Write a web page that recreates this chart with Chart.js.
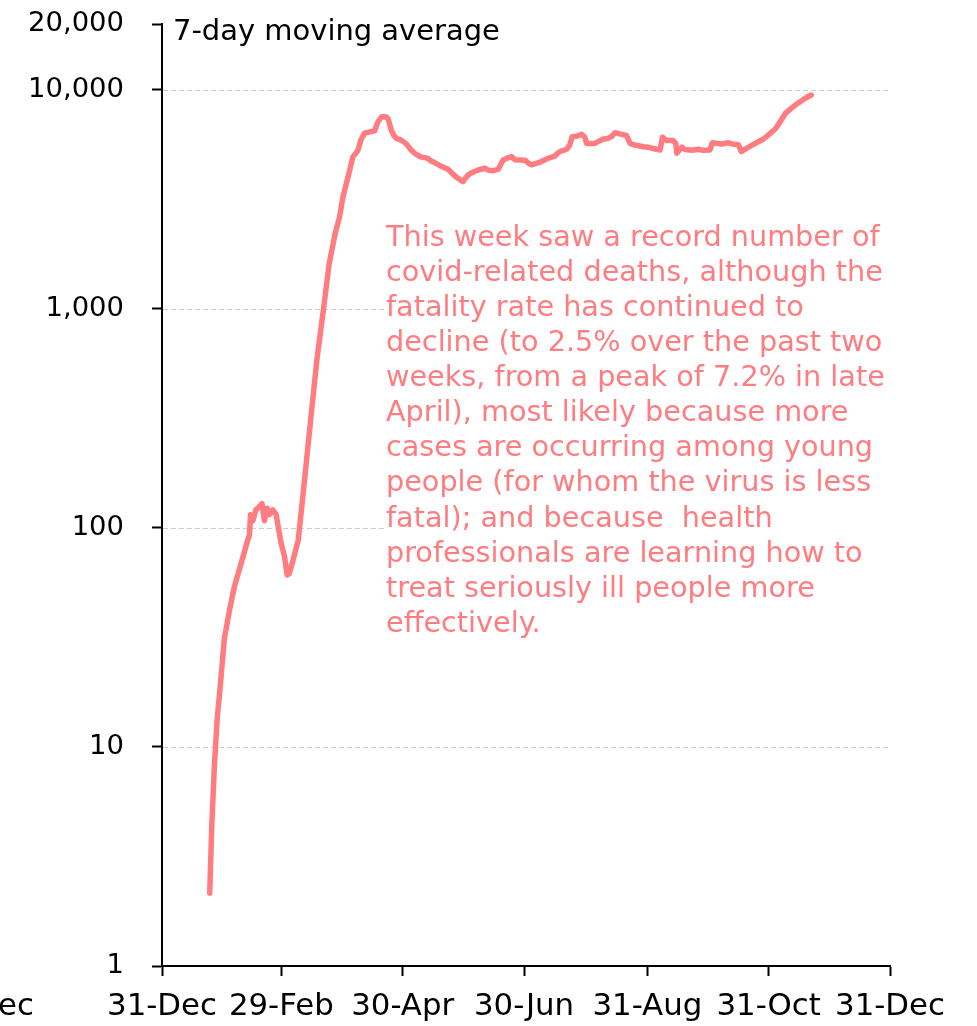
<!DOCTYPE html>
<html><head><meta charset="utf-8">
<script src="https://cdn.jsdelivr.net/npm/chart.js@4"></script>
<style>html,body{margin:0;padding:0;background:#fff;} canvas{display:block}</style>
</head><body>
<canvas id="c" width="977" height="1026"></canvas>
<script>
// ---- data ----
const tickDays = [0, 60, 121, 182, 244, 305, 366];
const tickLabels = ['31-Dec', '29-Feb', '30-Apr', '30-Jun', '31-Aug', '31-Oct', '31-Dec'];
const yTickValues = [1, 10, 100, 1000, 10000, 20000];
const yTickLabels = ['1', '10', '100', '1,000', '10,000', '20,000'];
const cutLabel = '31-Dec';
// days since 31-Dec-2019
const days = [24, 25, 26.3, 27.7, 29.3, 31.3, 33.9, 36.4, 39.8, 43.1, 44, 44.5, 45.7, 47.2, 48.5, 50.3, 51.5, 52.9, 54, 55.7, 57.4, 59.9, 61.6, 62.9, 64, 66, 68.5,
  71.5, 75, 78, 81.5, 84, 87, 89.3, 91, 93.5, 96, 98.5, 100, 101.8, 105, 106.9, 108.6, 110.5, 112.5, 113.6, 115.3, 116.5, 118, 120, 121.5, 123, 125, 127, 130,
  133.7, 135, 137, 140, 143.8, 146, 148, 150, 151.4, 152.5, 153.9, 156, 159, 162.3, 164, 166.5, 169, 170.5, 171.5, 174, 175.7, 177.4, 180, 182.5, 184, 185.8,
  189, 191.5, 194, 197.5, 198.5, 200, 203.4, 205, 206.2, 208.5, 211, 212.5, 213.5, 217.6, 220, 221.9, 224, 226, 227.7, 230, 233.5, 235.3, 237, 239.5, 242,
  244.5, 247, 250.4, 251.6, 253.8, 257, 258.3, 258.8, 261.3, 263, 266.4, 269.6, 272, 275.5, 276.7, 279, 281.5, 284.8, 287, 289.8, 291.2, 293, 294.9, 298.3,
  302.4, 305.5, 308.4, 311, 313.4, 316, 318.4, 321, 323.4, 326.4];
const deaths = [2.15, 4.3, 8.1, 13.3, 19, 31, 42, 54, 69, 88, 93, 115, 108, 121, 124, 129, 108, 123, 115, 121, 115, 85, 74, 61, 62, 72, 88,
  160, 330, 600, 1050, 1600, 2200, 2640, 3250, 4000, 4950, 5300, 5900, 6350, 6450, 6500, 7170, 7550, 7550, 7400, 6560, 6200, 6000, 5910, 5800, 5650, 5350, 5140, 4950,
  4870, 4750, 4660, 4500, 4340, 4150, 4000, 3880, 3820, 3950, 4090, 4200, 4310, 4390, 4300, 4280, 4340, 4600, 4790, 4900, 4960, 4800, 4790, 4780, 4650, 4550,
  4640, 4750, 4870, 4980, 5100, 5230, 5360, 5600, 6120, 6150, 6270, 6100, 5700, 5700, 5850, 5970, 6000, 6120, 6380, 6300, 6200, 5700, 5620, 5560, 5500,
  5480, 5400, 5320, 6080, 5870, 5870, 5700, 5140, 5480, 5350, 5300, 5360, 5300, 5320, 5740, 5700, 5660, 5740, 5650, 5620, 5230, 5350, 5480, 5700,
  5970, 6300, 6650, 7200, 7820, 8200, 8530, 8850, 9160, 9480];
const titleText = '7-day moving average';
const noteLines = [
  'This week saw a record number of',
  'covid-related deaths, although the',
  'fatality rate has continued to',
  'decline (to 2.5% over the past two',
  'weeks, from a peak of 7.2% in late',
  'April), most likely because more',
  'cases are occurring among young',
  'people (for whom the virus is less',
  'fatal); and because  health',
  'professionals are learning how to',
  'treat seriously ill people more',
  'effectively.'
];

// ---- styling ----
const FAMILY = '"DejaVu Sans", sans-serif';
const LINE_COLOR = '#FF7C80';
const mctx = document.createElement('canvas').getContext('2d');
function fit(text, w) { mctx.font = '100px ' + FAMILY; return 100 * w / mctx.measureText(text).width; }
const xTickSize = fit('31-Dec', 110);
const yTickSize = fit('10,000', 96);
const titleSize = fit(titleText, 327);
const noteSize = fit(noteLines[1], 497);
const xPad = 31 - 0.6 * xTickSize;

function noPad(s) { s.paddingTop = 0; s.paddingBottom = 0; s.paddingLeft = 0; s.paddingRight = 0; }

const decor = {
  id: 'decor',
  beforeDatasetsDraw(chart) {
    const { ctx, chartArea, scales } = chart;
    ctx.save();
    ctx.strokeStyle = '#CFCFCF';
    ctx.lineWidth = 1;
    ctx.setLineDash([5, 3]);
    [10, 100, 1000, 10000].forEach(v => {
      const y = Math.round(scales.y.getPixelForValue(v)) + 0.5;
      ctx.beginPath();
      ctx.moveTo(chartArea.left + 1, y);
      ctx.lineTo(chartArea.right - 2, y);
      ctx.stroke();
    });
    ctx.setLineDash([]);
    // note box background
    ctx.fillStyle = '#fff';
    ctx.fillRect(384, 222, chartArea.right - 384 + 2, 424);
    ctx.restore();
  },
  afterDraw(chart) {
    const { ctx, scales } = chart;
    ctx.save();
    ctx.fillStyle = '#000';
    ctx.textAlign = 'left';
    ctx.textBaseline = 'alphabetic';
    ctx.font = titleSize + 'px ' + FAMILY;
    ctx.fillText(titleText, 173, 40);
    ctx.fillStyle = LINE_COLOR;
    ctx.font = noteSize + 'px ' + FAMILY;
    noteLines.forEach((l, i) => ctx.fillText(l, 386, 245.7 + i * 35.1));
    // cut-off label at left edge
    ctx.fillStyle = '#000';
    ctx.font = xTickSize + 'px ' + FAMILY;
    ctx.textAlign = 'right';
    ctx.textBaseline = 'middle';
    ctx.fillText(cutLabel, 34, scales.x.top + 10 + xPad + 0.6 * xTickSize);
    ctx.restore();
  }
};

new Chart(document.getElementById('c'), {
  type: 'line',
  data: {
    datasets: [{
      data: days.map((d, i) => ({ x: d, y: deaths[i] })),
      borderColor: LINE_COLOR,
      borderWidth: 5.5,
      pointRadius: 0,
      tension: 0,
      fill: false,
      borderCapStyle: 'round',
      borderJoinStyle: 'round'
    }]
  },
  options: {
    responsive: false,
    animation: false,
    events: [],
    layout: { padding: { top: 24, right: 87, left: 0, bottom: 0 } },
    plugins: { legend: { display: false }, tooltip: { enabled: false } },
    scales: {
      x: {
        type: 'linear', min: 0, max: 366,
        afterBuildTicks: s => { s.ticks = tickDays.map(v => ({ value: v })); },
        afterFit: s => { s.height = 60; noPad(s); },
        ticks: {
          callback: v => tickLabels[tickDays.indexOf(v)],
          autoSkip: false, maxRotation: 0, minRotation: 0,
          color: '#000', font: { family: FAMILY, size: xTickSize }, padding: xPad
        },
        grid: { drawOnChartArea: false, drawTicks: true, tickLength: 10, tickColor: '#000', tickWidth: 2 },
        border: { color: '#000', width: 2 }
      },
      y: {
        type: 'logarithmic', min: 1, max: 20000,
        afterBuildTicks: s => { s.ticks = yTickValues.map(v => ({ value: v })); },
        afterFit: s => { s.width = 162; noPad(s); },
        ticks: {
          callback: v => yTickLabels[yTickValues.indexOf(v)],
          autoSkip: false,
          color: '#000', font: { family: FAMILY, size: yTickSize }, padding: 28
        },
        grid: { drawOnChartArea: false, drawTicks: true, tickLength: 10, tickColor: '#000', tickWidth: 2 },
        border: { color: '#000', width: 2 }
      }
    }
  },
  plugins: [decor]
});
</script>
</body></html>
